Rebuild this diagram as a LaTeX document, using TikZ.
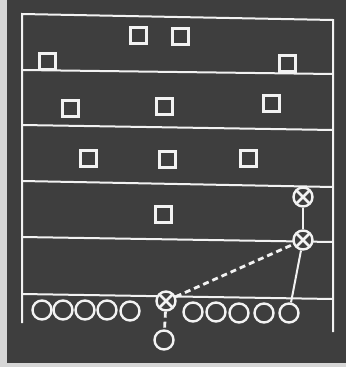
\documentclass[tikz,border=0pt]{standalone}
\usetikzlibrary{calc}
\definecolor{board}{HTML}{3E3E3E}
\definecolor{paper}{HTML}{D6D6D6}
\definecolor{chalk}{HTML}{F2F2F2}
\tikzset{
  fieldline/.style={draw=chalk, line width=2pt},
  defender/.style={draw=chalk, line width=3pt, minimum size=16pt, inner sep=0pt, rectangle, fill=board},
  player/.style={draw=chalk, line width=2.4pt, circle, minimum size=19pt, inner sep=0pt, fill=board},
  xplayer/.style={draw=chalk, line width=2.4pt, circle, minimum size=19pt, inner sep=0pt, fill=board,
    path picture={\draw[chalk, line width=2.8pt]
      (path picture bounding box.north west) -- (path picture bounding box.south east)
      (path picture bounding box.north east) -- (path picture bounding box.south west);}},
  pass/.style={draw=chalk, line width=2.8pt, dash pattern=on 6pt off 4pt},
  run/.style={draw=chalk, line width=2pt},
}
\begin{document}
\begin{tikzpicture}[x=1pt, y=-1pt]
\useasboundingbox (0,0) rectangle (346,367);
\fill[paper] (0,0) rectangle (346,367);
\fill[board] (7,0) rectangle (346,363);
% field
\draw[fieldline] (22,323) -- (22,14) -- (333,20) -- (333,332);
\draw[fieldline] (22,70) -- (333,74);
\draw[fieldline] (22,125) -- (333,130);
\draw[fieldline] (22,181) -- (333,187);
\draw[fieldline] (22,237) -- (333,242);
\draw[fieldline] (22,294) -- (333,299);
% defenders
\node[defender] (d1) at (138,35) {};
\node[defender] (d2) at (180,36) {};
\node[defender] (d3) at (47,61) {};
\node[defender] (d4) at (287,63) {};
\node[defender] (d5) at (70,108) {};
\node[defender] (d6) at (164,106) {};
\node[defender] (d7) at (271,103) {};
\node[defender] (d8) at (88,158) {};
\node[defender] (d9) at (167,159) {};
\node[defender] (d10) at (248,158) {};
\node[defender] (d11) at (163,214) {};
% attackers
\node[player] (a1) at (42,310) {};
\node[player] (a2) at (63,310) {};
\node[player] (a3) at (85,310) {};
\node[player] (a4) at (107,310) {};
\node[player] (a5) at (130,311) {};
\node[player] (a6) at (193,312) {};
\node[player] (a7) at (216,312) {};
\node[player] (a8) at (239,313) {};
\node[player] (a9) at (264,313) {};
\node[player] (a10) at (289,313) {};
\node[player] (qb) at (164,340) {};
\node[xplayer] (xc) at (166,301) {};
\node[xplayer] (xr) at (303,240) {};
\node[xplayer] (xt) at (303,197) {};
% moves
\draw[pass] (xc) -- (qb);
\draw[pass] (xc) -- (xr);
\draw[run] (xt) -- (xr);
\draw[run] (xr) -- (a10);
\end{tikzpicture}
\end{document}
